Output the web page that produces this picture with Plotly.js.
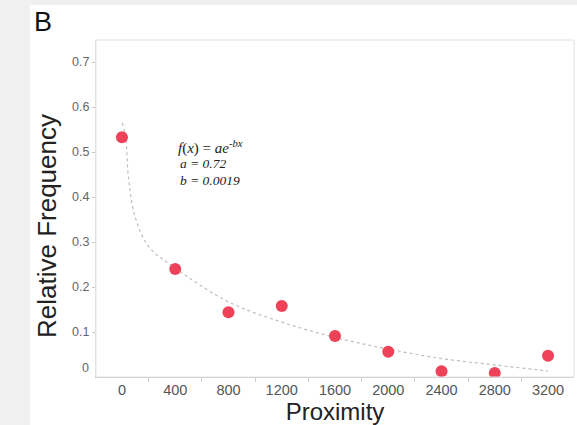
<!DOCTYPE html>
<html><head><meta charset="utf-8">
<script src="https://cdn.plot.ly/plotly-3.0.1.min.js"></script>
<style>html,body{margin:0;padding:0;background:#f0f0f0;}#c{width:577px;height:425px;}</style>
</head><body><div id="c"></div>
<script>
// Observed data
const proximity = [0, 400, 800, 1200, 1600, 2000, 2400, 2800, 3200];
const relFreq   = [0.533, 0.240, 0.144, 0.158, 0.091, 0.056, 0.013, 0.009, 0.047];
// Fitted curve
const fitX = [3, 28, 50, 100, 200, 400, 800, 1200, 1600, 2000, 2400, 2800, 3200];
const fitY = [0.565, 0.530, 0.440, 0.355, 0.290, 0.242, 0.167, 0.122, 0.088, 0.062, 0.041, 0.027, 0.013];
// Axis ticks
const xTicks = [0, 400, 800, 1200, 1600, 2000, 2400, 2800, 3200];
const xMinor = [200, 600, 1000, 1400, 1800, 2200, 2600, 3000];
const yTicks = [0.1, 0.2, 0.3, 0.4, 0.5, 0.6, 0.7];

const traces = [
  {x: fitX, y: fitY, mode: 'lines', line: {color: '#bdbdbd', width: 1.2, dash: 'dot', shape: 'spline'}, hoverinfo: 'skip'},
  {x: proximity, y: relFreq, mode: 'markers', marker: {color: '#ee4259', size: 12}}
];

const sans = 'Liberation Sans, Arial, sans-serif';
const serif = 'Liberation Serif, Times New Roman, serif';
const layout = {
  width: 577, height: 425,
  margin: {l: 96, r: 3, t: 40, b: 48},
  paper_bgcolor: '#f0f0f0', plot_bgcolor: '#ffffff',
  showlegend: false,
  font: {family: sans, color: '#555'},
  xaxis: {
    range: [-195, 3395], tickvals: xTicks, ticktext: xTicks.map(String),
    ticks: '', showgrid: false, zeroline: false,
    showline: true, linecolor: '#c4c4c4', linewidth: 1,
    tickfont: {size: 14.5, color: '#555'},
    minor: {tickvals: xMinor, ticks: 'outside', ticklen: 4, tickcolor: '#cccccc', showgrid: false},
    title: {text: 'Proximity', font: {size: 24, color: '#222'}, standoff: 6}
  },
  yaxis: {
    range: [0, 0.749], tickvals: yTicks, ticktext: yTicks.map(String),
    ticks: 'outside', ticklen: 3, tickcolor: '#c8c8c8',
    showgrid: false, zeroline: false,
    showline: true, linecolor: '#e0e0e0', linewidth: 1,
    tickfont: {size: 12.5, color: '#666'}
  },
  shapes: [
    {type: 'rect', xref: 'paper', yref: 'paper', x0: -0.138, x1: 1.01, y0: -0.15, y1: 1.104,
     fillcolor: '#ffffff', line: {width: 0}, layer: 'below'},
    {type: 'rect', xref: 'paper', yref: 'paper', x0: 0, x1: 1, y0: 0, y1: 1,
     fillcolor: 'rgba(0,0,0,0)', line: {color: '#e2e2e2', width: 1}, layer: 'above'}
  ],
  annotations: [
    {xref: 'paper', yref: 'paper', x: -0.134, y: 1.105, xanchor: 'left', yanchor: 'top',
     text: 'B', showarrow: false, font: {size: 27, color: '#111', family: sans}},
    {xref: 'paper', yref: 'paper', x: -0.1025, y: 0.448, xanchor: 'center', yanchor: 'middle', textangle: -90,
     text: 'Relative Frequency', showarrow: false, font: {size: 26, color: '#222', family: sans}},
    {xref: 'paper', yref: 'y', x: 0, y: 0, xanchor: 'right', yanchor: 'middle', xshift: -5, yshift: 9,
     text: '0', showarrow: false, font: {size: 12.5, color: '#666'}},
    {xref: 'paper', yref: 'paper', x: 0.168, y: 0.682, xanchor: 'left', yanchor: 'middle', showarrow: false,
     text: '<i>f</i>(<i>x</i>) = <i>ae</i><sup><i>-bx</i></sup>', font: {family: serif, size: 15, color: '#222'}},
    {xref: 'paper', yref: 'paper', x: 0.172, y: 0.635, xanchor: 'left', yanchor: 'middle', showarrow: false,
     text: '<i>a = 0.72</i>', font: {family: serif, size: 13.5, color: '#222'}},
    {xref: 'paper', yref: 'paper', x: 0.172, y: 0.583, xanchor: 'left', yanchor: 'middle', showarrow: false,
     text: '<i>b = 0.0019</i>', font: {family: serif, size: 13.5, color: '#222'}}
  ]
};

Plotly.newPlot('c', traces, layout, {displayModeBar: false, staticPlot: true});
</script>
</body></html>
